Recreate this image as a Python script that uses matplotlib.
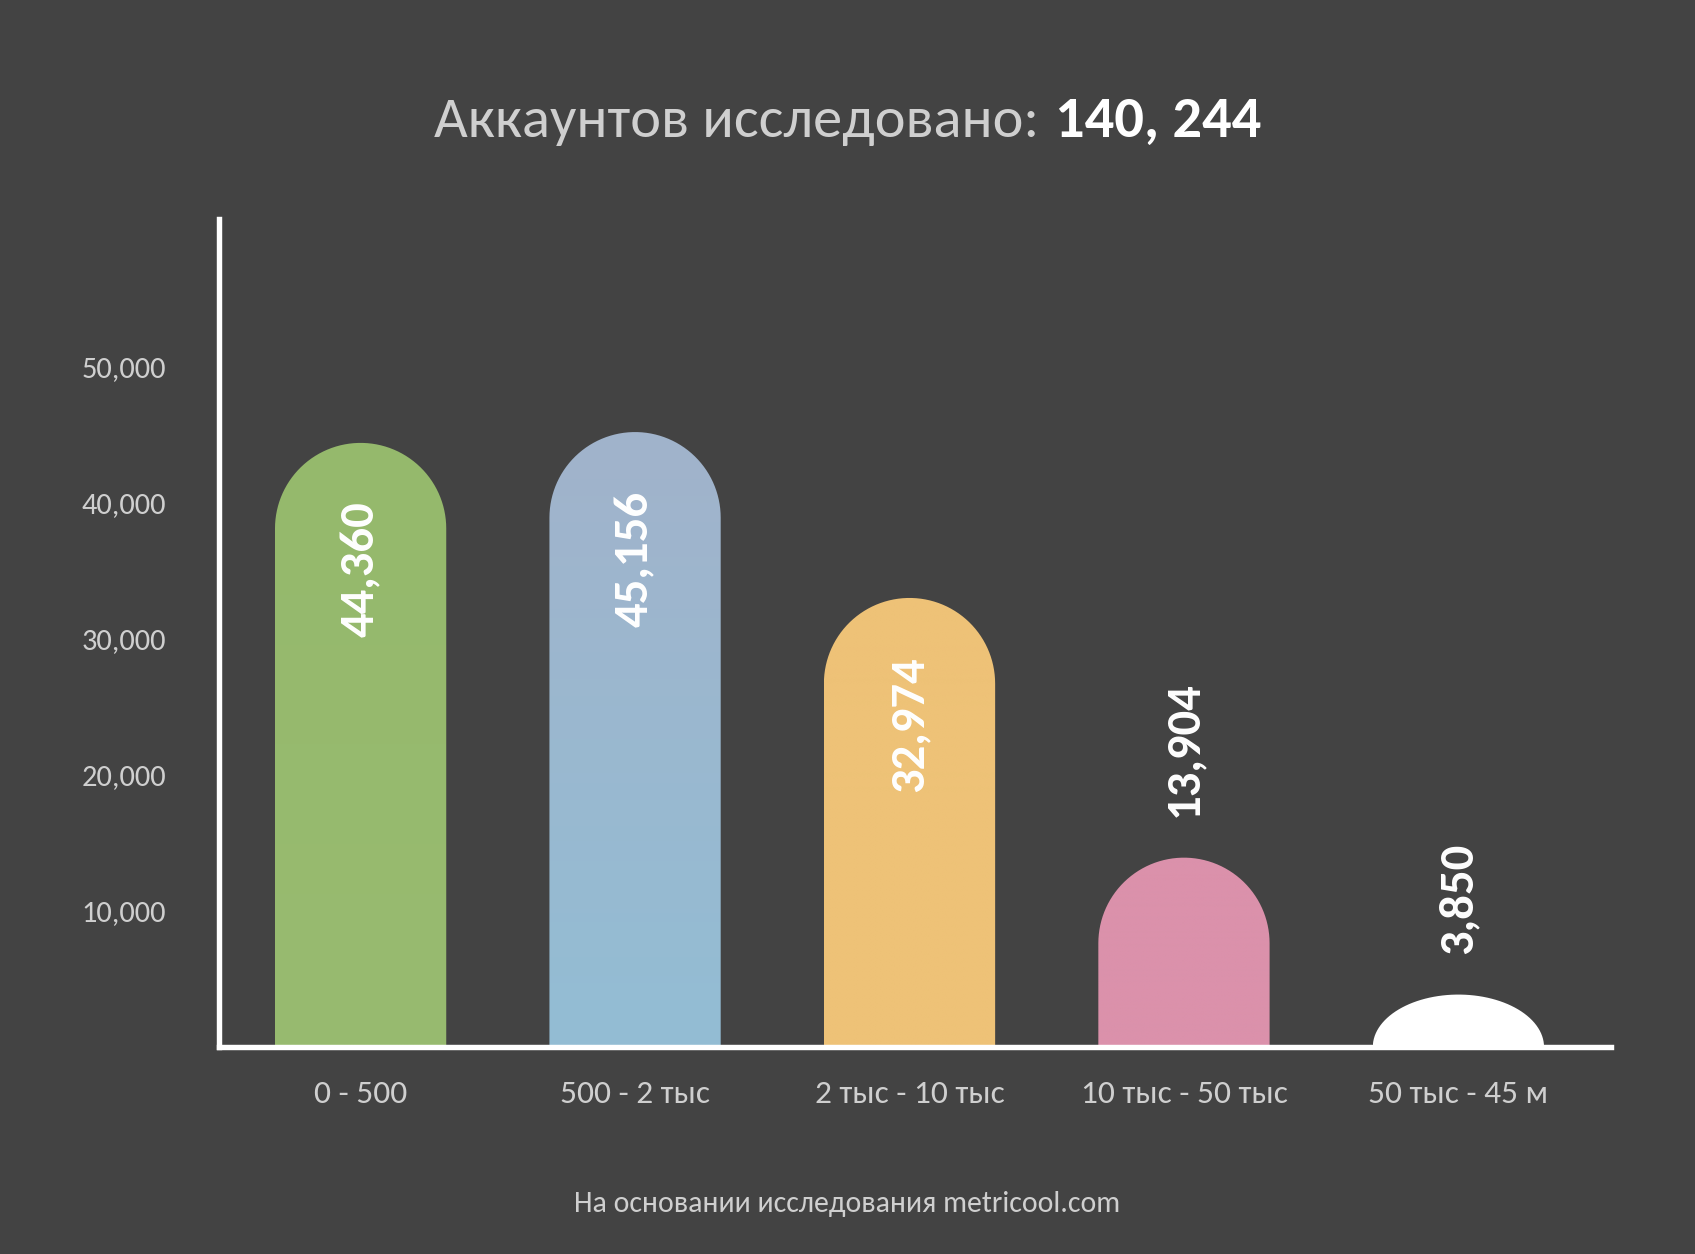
import matplotlib

matplotlib.use("Agg")
import matplotlib.pyplot as plt
import numpy as np
from matplotlib.path import Path
from matplotlib.patches import PathPatch
from matplotlib.colors import to_rgb

BG = "#434343"
TXT = "#cfcfcf"

categories = ["0 - 500", "500 - 2 тыс", "2 тыс - 10 тыс", "10 тыс - 50 тыс", "50 тыс - 45 м"]
accounts = [44360, 45156, 32974, 13904, 3850]
top_colors = ["#95b96c", "#a1b3cb", "#eec277", "#db91ab", "#ffffff"]
bottom_colors = ["#98bb70", "#93bdd4", "#eec277", "#db91ab", "#ffffff"]
yticks = [10000, 20000, 30000, 40000, 50000]
total = "140, 244"

FONT = ["Carlito", "Open Sans", "DejaVu Sans"]
plt.rcParams["font.family"] = FONT

W, H = 1695, 1254
fig = plt.figure(figsize=(W / 100, H / 100), dpi=100, facecolor=BG)
ax = fig.add_axes([219 / W, 1 - 1047 / H, (1611 - 219) / W, (1047 - 219) / H])
ax.set_facecolor(BG)
ax.set_xlim(-0.516, 4.556)
ax.set_ylim(0, 60800)

bw = 0.624
x = np.arange(len(categories))

# pixel scale -> radius of the round cap in y units
px_x = (1611 - 219) / (4.556 + 0.516)
px_y = (1047 - 219) / 60800
r_y = (bw / 2) * px_x / px_y

for xi, v, ct, cb in zip(x, accounts, top_colors, bottom_colors):
    x0, x1 = xi - bw / 2, xi + bw / 2
    ry = min(r_y, v)
    t = np.linspace(np.pi, 0, 60)
    verts = [(x0, 0), (x0, v - ry)]
    verts += list(zip(xi + bw / 2 * np.cos(t), v - ry + ry * np.sin(t)))
    verts += [(x1, v - ry), (x1, 0), (x0, 0)]
    codes = [Path.MOVETO] + [Path.LINETO] * (len(verts) - 2) + [Path.CLOSEPOLY]
    patch = PathPatch(Path(verts, codes), facecolor="none", edgecolor="none")
    ax.add_patch(patch)
    grad = np.linspace(0, 1, 100)[:, None, None]
    img = np.array(to_rgb(ct))[None, None, :] * (1 - grad) + np.array(to_rgb(cb))[None, None, :] * grad
    im = ax.imshow(img, extent=(x0, x1, 0, v), origin="upper", aspect="auto",
                   interpolation="bilinear", zorder=2)
    im.set_clip_path(patch)

    if v > 20000:
        ax.text(xi, v - 4300, f"{v:,}", rotation=90, ha="center", va="top",
                color="white", fontsize=35, fontweight="bold", zorder=3)
    else:
        ax.text(xi, v + 3000, f"{v:,}", rotation=90, ha="center", va="bottom",
                color="white", fontsize=35, fontweight="bold", zorder=3)

for s in ["top", "right"]:
    ax.spines[s].set_visible(False)
for s in ["left", "bottom"]:
    ax.spines[s].set_color("white")
    ax.spines[s].set_linewidth(3.9)
    ax.spines[s].set_zorder(4)

ax.set_yticks(yticks)
ax.set_yticklabels([f"{t:,}" for t in yticks])
ax.set_xticks(x)
ax.set_xticklabels(categories)
ax.tick_params(axis="y", length=0, pad=38, labelsize=22, labelcolor=TXT)
ax.tick_params(axis="x", length=0, pad=24, labelsize=24, labelcolor=TXT)

# title in two weights, centred as a whole
ty = 1 - 121 / H
t1 = fig.text(0, ty, "Аккаунтов исследовано:", ha="left", va="center",
              fontsize=42, color=TXT)
t2 = fig.text(0, ty, total, ha="left", va="center",
              fontsize=42, color="white", fontweight="bold")
r = fig.canvas.get_renderer()
w1 = t1.get_window_extent(r).width / W
w2 = t2.get_window_extent(r).width / W
gap = 16 / W
x_start = 0.5 - (w1 + gap + w2) / 2
t1.set_x(x_start)
t2.set_x(x_start + w1 + gap)

fig.text(0.5, 1 - 1204 / H, "На основании исследования metricool.com", ha="center",
         va="center", fontsize=21.5, color=TXT)

fig.savefig("out.png", dpi=100, facecolor=BG)
